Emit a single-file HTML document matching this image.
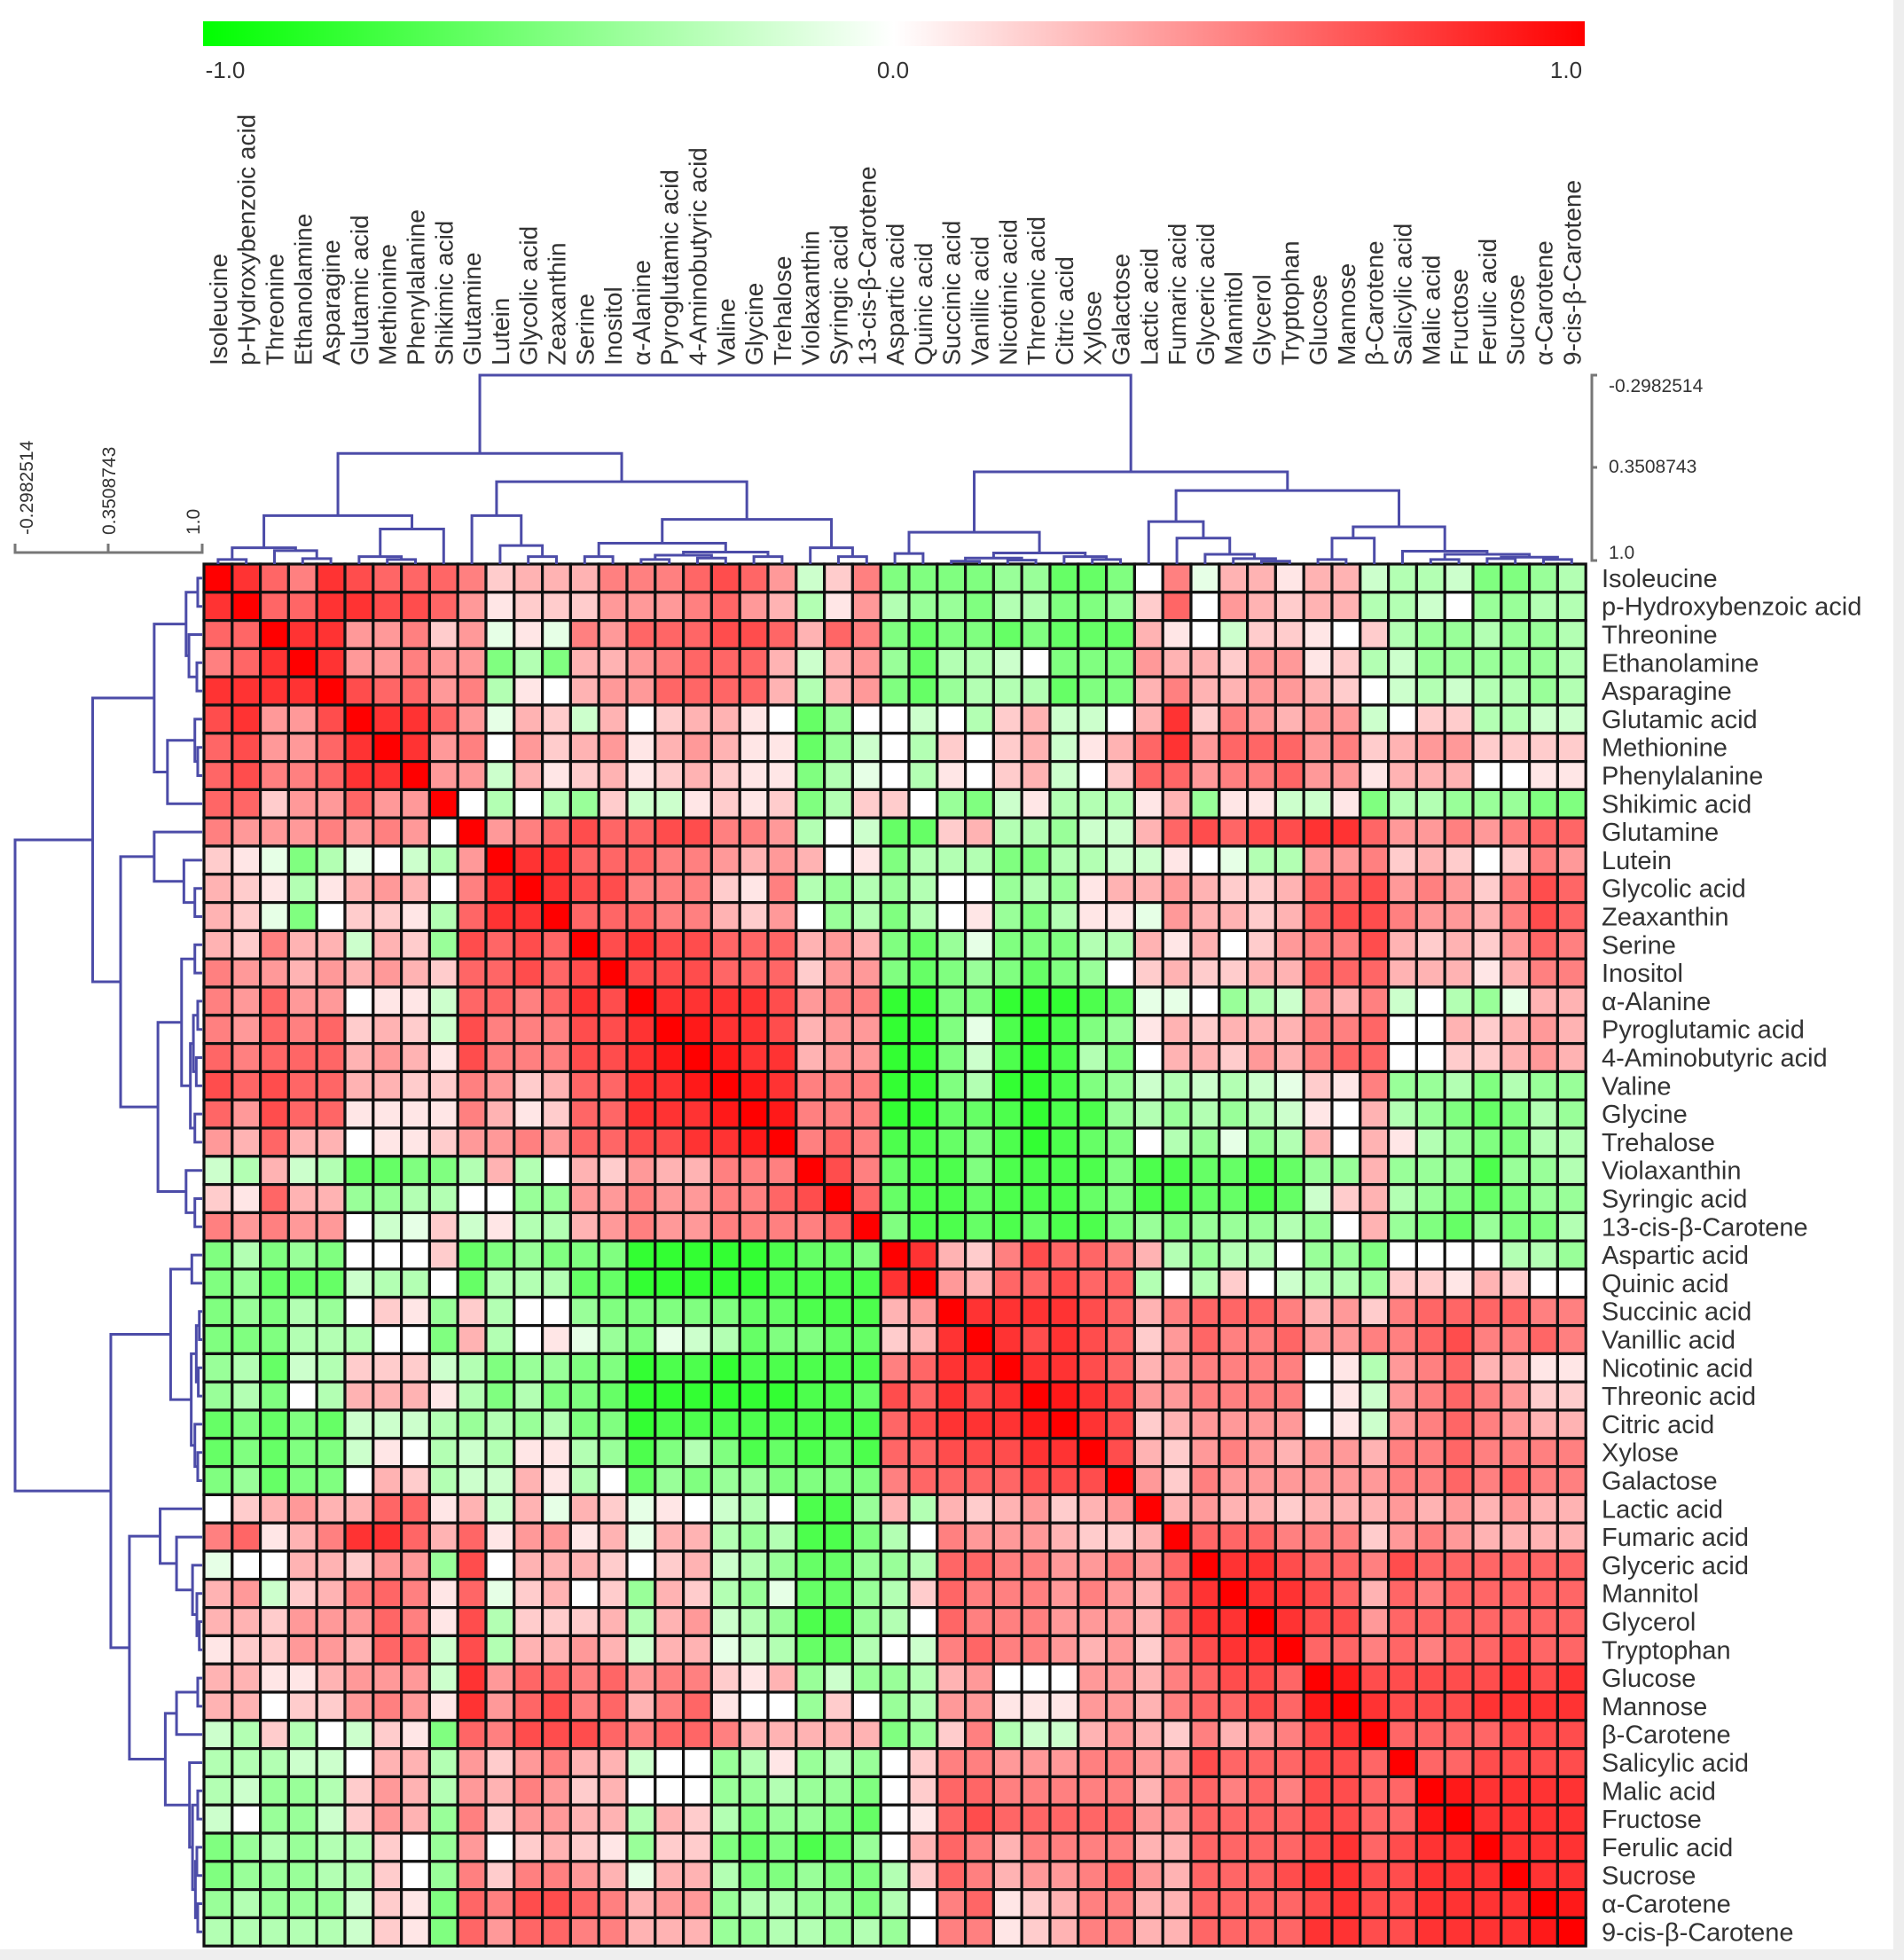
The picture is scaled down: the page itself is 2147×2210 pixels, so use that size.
<!DOCTYPE html>
<html><head><meta charset="utf-8"><style>
html,body{margin:0;padding:0;background:#fff;}
svg{display:block;font-family:"Liberation Sans",sans-serif;}
</style></head><body>
<svg id="chart" width="2147" height="2210" viewBox="0 0 2147 2210" xmlns="http://www.w3.org/2000/svg">
<defs><linearGradient id="cbg" x1="0" x2="1" y1="0" y2="0"><stop offset="0" stop-color="#00ff00"/><stop offset="0.5" stop-color="#ffffff"/><stop offset="1" stop-color="#ff0000"/></linearGradient></defs>
<rect x="0" y="0" width="2147" height="2210" fill="#fff"/>
<rect x="2135" y="0" width="12" height="2210" fill="#eeeeee"/>
<rect x="0" y="2198" width="2147" height="12" fill="#eeeeee"/>
<g id="colorbar">
<rect x="229" y="24" width="1558" height="28" fill="url(#cbg)"/>
<text x="254" y="88" font-size="26" fill="#333" text-anchor="middle">-1.0</text>
<text x="1007" y="88" font-size="26" fill="#333" text-anchor="middle">0.0</text>
<text x="1766" y="88" font-size="26" fill="#333" text-anchor="middle">1.0</text>
</g>
<g id="cells"></g>
<g id="collabels"></g>
<g id="rowlabels"></g>
<g id="dendTop"></g>
<g id="dendLeft"></g>
<g id="scaleTop">
<path d="M1801 423 H1795 V632 H1801 M1795 527 H1801" stroke="#777" stroke-width="3" fill="none"/>
<text x="1814" y="442" font-size="21" fill="#333">-0.2982514</text>
<text x="1814" y="533" font-size="21" fill="#333">0.3508743</text>
<text x="1814" y="630" font-size="21" fill="#333">1.0</text>
</g>
<g id="scaleLeft">
<path d="M17 613 V623 H228 V613 M122 613 V623" stroke="#777" stroke-width="3" fill="none"/>
<text transform="translate(37,603) rotate(-90)" font-size="21" fill="#333">-0.2982514</text>
<text transform="translate(130,603) rotate(-90)" font-size="21" fill="#333">0.3508743</text>
<text transform="translate(225,603) rotate(-90)" font-size="21" fill="#333">1.0</text>
</g>
</svg>
<script>
const labels = ["Isoleucine","p-Hydroxybenzoic acid","Threonine","Ethanolamine","Asparagine","Glutamic acid","Methionine","Phenylalanine","Shikimic acid","Glutamine","Lutein","Glycolic acid","Zeaxanthin","Serine","Inositol","α-Alanine","Pyroglutamic acid","4-Aminobutyric acid","Valine","Glycine","Trehalose","Violaxanthin","Syringic acid","13-cis-β-Carotene","Aspartic acid","Quinic acid","Succinic acid","Vanillic acid","Nicotinic acid","Threonic acid","Citric acid","Xylose","Galactose","Lactic acid","Fumaric acid","Glyceric acid","Mannitol","Glycerol","Tryptophan","Glucose","Mannose","β-Carotene","Salicylic acid","Malic acid","Fructose","Ferulic acid","Sucrose","α-Carotene","9-cis-β-Carotene"];
// value codes: digit d => d/10, letter a..i => -0.1..-0.9 ; diagonal = 1
const rowsTop = [
"9 8 6 5 8 7 6 6 6 5 2 3 3 3 5 5 5 6 7 6 4 b 2 5 e e e e d d f f e 0 5 a 3 3 1 3 3 b c c b e e d c",
"8 9 6 6 8 8 7 7 6 4 1 2 2 2 4 4 4 5 6 4 3 c 1 4 c d d e c c e e d 2 6 0 4 3 2 3 3 c c b 0 d d c c",
"6 6 9 8 8 4 4 5 2 4 a 1 a 5 4 6 6 6 7 7 6 3 6 5 e f e e f e f f f 3 1 0 b 2 2 1 0 2 c d d c d d c",
"6 6 8 9 8 4 4 5 4 4 e c e 3 3 4 5 6 6 6 3 b 3 4 d f c c b 0 e e e 4 3 3 2 4 4 1 2 c b d d d d d c",
"8 8 8 8 9 7 6 6 4 5 c 1 0 3 4 4 6 6 6 6 3 c 3 4 e f d c c c f e e 3 5 3 3 4 4 3 2 0 b c b c c d c",
"8 8 4 4 7 9 8 8 6 4 a 3 2 b 3 0 2 3 3 1 0 f d 0 0 b 0 c 2 3 b b 0 3 8 2 5 4 3 4 4 b 0 2 2 c c b b",
"7 8 4 5 7 9 9 8 4 5 0 4 2 3 4 1 3 4 3 1 1 f d b 0 c 2 0 2 3 b 1 3 6 8 4 6 6 6 4 5 2 3 4 4 2 2 2 2",
"6 7 5 5 7 8 8 9 4 4 b 3 1 2 3 1 2 3 2 1 1 e c a 0 c 1 0 2 3 b 0 2 6 6 4 5 5 6 4 4 1 3 3 3 0 0 1 1",
"6 7 2 4 5 6 5 4 9 0 c 0 c d 2 b b 1 2 1 2 e c 2 2 0 d e b 1 c c c 1 3 d 1 1 b b 1 e c c d d d e e",
"5 4 4 4 6 4 5 4 0 9 4 5 6 7 6 6 7 7 5 5 4 c 0 b f f 2 3 c c d b b 3 6 7 6 7 7 8 8 6 4 4 5 4 5 6 6",
"2 1 0 e c 0 0 b c 4 9 8 8 6 6 6 5 5 4 3 4 3 0 1 e c c c e e c c b b 1 0 a c c 4 4 5 2 3 2 0 2 5 4",
"2 2 1 c 1 3 5 4 0 5 8 9 8 7 7 5 5 5 2 1 5 c d c d c 0 0 d c d 1 3 3 4 3 2 2 3 6 6 7 4 5 4 2 5 7 6",
"2 2 b e 0 2 3 2 c 6 8 8 9 6 6 6 5 5 3 2 4 0 d c e c 0 1 d e c 1 1 a 4 3 3 2 3 6 7 7 5 4 4 3 5 7 6",
"3 2 5 4 5 b 3 3 d 7 6 7 6 9 7 8 7 7 6 6 6 3 4 3 e f d a e e e c c 3 1 3 0 2 4 5 5 7 3 2 3 2 4 6 5",
"5 5 4 4 5 3 4 3 2 6 6 6 6 7 9 7 7 7 6 6 6 2 4 4 e f e d e f e d 0 2 3 2 2 3 3 6 6 6 3 3 3 1 3 5 5",
"5 4 6 4 5 0 1 1 b 6 6 5 6 8 7 9 8 8 8 8 7 4 5 5 h h e e h h h g f a a 0 d c b 4 3 5 b 0 c d a 3 3",
"5 4 6 5 6 1 3 2 0 7 5 4 6 8 7 8 9 9 8 8 7 3 4 4 h h e a g h g e d 1 3 2 3 3 3 5 5 6 0 0 3 2 3 4 3",
"6 5 6 5 6 3 3 3 1 7 6 4 5 8 7 8 9 9 9 8 8 3 4 4 h h e b g h g c e 0 3 3 2 4 3 5 6 6 0 0 2 2 3 4 3",
"7 6 7 6 6 3 3 2 2 5 6 3 2 7 6 8 8 9 9 9 8 5 5 5 h h e c h h g e d b c b c b a 2 1 5 d d c e c d d",
"6 5 7 6 6 0 1 1 1 5 4 3 1 7 6 8 8 8 9 9 9 5 5 5 h h f f g h g g d c d c d c b 1 0 3 c d e f e c d",
"5 4 6 4 4 0 1 1 1 4 5 3 2 6 6 7 7 8 8 9 9 5 6 5 g g f e g h g f e 0 c d a d c 3 0 3 1 c d e e c c",
"a c 4 1 a f f e d 2 4 4 0 4 2 3 3 5 6 7 8 9 7 5 f g g e g g g g e g g f f g f d d 3 d d d g d d c",
"1 0 6 4 3 d d d d 1 0 c d 4 4 6 6 6 6 7 8 7 9 6 f g g f g g g f e g g f f g f b 2 3 c d e f e d d",
"5 4 6 4 4 0 c 1 2 b b c c 2 3 4 5 5 5 6 6 5 6 9 e g g f g f g g e d e d d d c d 0 3 d e f d e e c"
];
// rows 24..48, columns 24..48 (only upper triangle used)
const rowsBottom = [
"9 8 3 2 5 7 6 6 5 3 c d c c 0 d d e 0 0 0 0 c c d",
"8 9 4 3 6 6 7 6 6 c 0 c 2 0 b c c d 2 2 1 3 2 0 0",
"3 4 9 8 8 8 8 7 6 3 5 6 6 6 5 3 4 2 5 6 6 6 6 5 5",
"1 3 8 9 8 7 8 7 6 2 4 6 5 5 6 4 4 5 5 6 7 5 5 6 5",
"5 5 8 8 9 8 8 7 6 3 4 5 5 5 5 0 1 c 4 5 6 3 3 1 1",
"7 6 8 7 8 9 9 8 7 4 4 5 5 5 5 0 1 b 4 5 6 5 4 2 2",
"6 7 8 7 8 9 9 8 7 2 3 4 4 4 4 0 1 b 4 5 6 5 4 3 3",
"6 7 8 7 8 8 8 9 7 3 2 4 5 4 3 4 4 3 5 5 6 5 5 5 5",
"6 6 6 5 6 7 6 8 9 4 2 5 4 4 4 4 4 4 5 5 6 5 6 5 5",
"3 0 3 2 3 5 1 3 4 9 3 4 3 3 2 3 3 3 4 3 4 3 4 3 3",
"c 0 5 4 5 4 4 2 2 3 9 6 6 6 5 5 5 2 4 5 4 3 3 3 3",
"d c 6 7 5 4 4 5 5 3 6 9 8 8 7 6 6 5 7 6 6 6 6 6 6",
"c 2 6 6 4 5 5 5 5 3 7 8 9 8 8 7 6 3 6 5 6 6 6 6 6",
"c 0 7 6 6 6 5 5 5 3 7 8 8 9 8 7 7 4 6 6 6 6 6 6 6",
"a c 6 6 5 4 4 3 4 2 5 7 8 8 9 6 6 5 6 5 6 6 7 6 6",
"e c 4 4 0 0 1 5 5 3 6 6 6 7 6 9 9 7 7 7 7 7 8 7 8",
"e c 4 4 0 1 1 4 4 3 6 6 7 6 6 9 9 8 7 7 7 8 8 8 8",
"e d 3 5 c c b 4 4 2 6 4 5 5 6 7 8 9 6 6 6 6 7 7 7",
"0 2 5 5 5 6 5 5 5 4 5 6 6 6 5 7 7 6 9 6 6 7 7 7 7",
"0 2 6 6 5 5 5 6 6 4 5 6 6 5 6 7 7 6 6 9 9 8 8 8 8",
"0 0 0 0 0 0 0 0 0 0 0 0 0 0 0 0 0 0 0 0 9 8 8 8 8",
"0 0 0 0 0 0 0 0 0 0 0 0 0 0 0 0 0 0 0 0 0 9 8 8 8",
"0 0 0 0 0 0 0 0 0 0 0 0 0 0 0 0 0 0 0 0 0 0 9 8 8",
"0 0 0 0 0 0 0 0 0 0 0 0 0 0 0 0 0 0 0 0 0 0 0 9 9",
"0 0 0 0 0 0 0 0 0 0 0 0 0 0 0 0 0 0 0 0 0 0 0 0 9"
];
// dendrogram: [left, right, mergeHeight]; leaves are indices
const tree = [
 [[[[0,1,0.969],[2,[3,4,0.963],0.908],0.888],[[5,[6,7,0.969],0.949],8,0.759],0.667],
  [[9,[10,[11,12,0.949],0.873],0.667],
   [[[13,14,0.949],[[[15,16,0.969],[17,18,0.959],0.939],[19,20,0.949],0.918],0.857],[21,[22,23,0.949],0.888],0.693],0.434],0.240],
 [[[24,25,0.928],[[[26,27,0.980],[28,29,0.973],0.959],[30,[31,32,0.969],0.949],0.924],0.781],
  [[33,[34,[35,[36,[37,38,0.980],0.963],0.933],0.822],0.708],
   [[[39,40,0.969],41,0.822],[42,[[43,44,0.969],[[45,46,0.963],[47,48,0.969],0.953],0.933],0.912],0.744],0.495],0.366],
 -0.2982514];
const scaleTicks = [-0.2982514, 0.3508743, 1.0];

const NS = "http://www.w3.org/2000/svg";
const N = labels.length;
const X0 = 230, Y0 = 636, CELL = 31.8;
const colX = j => X0 + CELL * j;
const rowY = i => Y0 + CELL * i;
const hMin = scaleTicks[0], hMax = scaleTicks[2];
const topY = h => 423 + (h - hMin) / (hMax - hMin) * (Y0 - 423);
const leftX = h => 17 + (h - hMin) / (hMax - hMin) * (X0 - 2 - 17);

function parseCode(t){ if (/[0-9]/.test(t)) return parseInt(t,10)/10; return -(t.charCodeAt(0)-96)/10; }
const matTop = rowsTop.map(r => r.trim().split(/\s+/).map(parseCode));
const matBottom = rowsBottom.map(r => r.trim().split(/\s+/).map(parseCode));
function val(i,j){
  if (i===j) return 1;
  if (i>j){ const t=i; i=j; j=t; }
  if (i<24) return matTop[i][j];
  return matBottom[i-24][j-24];
}
function color(v){
  v = Math.max(-1, Math.min(1, v));
  if (v>=0){ const c=Math.round(255*(1-v)); return `rgb(255,${c},${c})`; }
  const c=Math.round(255*(1+v)); return `rgb(${c},255,${c})`;
}
const cellsG = document.getElementById('cells');
for (let i=0;i<N;i++) for (let j=0;j<N;j++){
  const r = document.createElementNS(NS,'rect');
  r.setAttribute('x', colX(j)); r.setAttribute('y', rowY(i));
  r.setAttribute('width', CELL); r.setAttribute('height', CELL);
  r.setAttribute('fill', color(val(i,j)));
  r.setAttribute('stroke', '#111'); r.setAttribute('stroke-width', '3.2');
  
  
  cellsG.appendChild(r);
}
const cl = document.getElementById('collabels');
const rl = document.getElementById('rowlabels');
labels.forEach((lab, k) => {
  const t = document.createElementNS(NS,'text');
  const cx = colX(k) + CELL/2 + 10;
  t.setAttribute('transform', `translate(${cx},412) rotate(-90)`);
  t.setAttribute('font-size', '28'); t.setAttribute('fill', '#333');
  t.textContent = lab;
  
  
  cl.appendChild(t);
  const u = document.createElementNS(NS,'text');
  u.setAttribute('x', 1806); u.setAttribute('y', rowY(k) + CELL/2 + 10);
  u.setAttribute('font-size', '29'); u.setAttribute('fill', '#333');
  u.textContent = lab;
  
  
  rl.appendChild(u);
});
function layout(node, segs){
  if (typeof node === 'number') return {p: node + 0.5, h: 1.0};
  const a = layout(node[0], segs), b = layout(node[1], segs), h = node[2];
  segs.push([a, b, h]);
  return {p: (a.p + b.p)/2, h: h};
}
const segList = []; layout(tree, segList);
const dt = document.getElementById('dendTop'), dl = document.getElementById('dendLeft');
segList.forEach(([a,b,h]) => {
  const xa = X0 + CELL*a.p, xb = X0 + CELL*b.p;
  const p1 = document.createElementNS(NS,'path');
  p1.setAttribute('d', `M${xa} ${topY(a.h)} V${topY(h)} H${xb} V${topY(b.h)}`);
  p1.setAttribute('stroke', '#4c4ca8'); p1.setAttribute('stroke-width', '3'); p1.setAttribute('fill', 'none');
  
  
  dt.appendChild(p1);
  const ya = Y0 + CELL*a.p, yb = Y0 + CELL*b.p;
  const p2 = document.createElementNS(NS,'path');
  p2.setAttribute('d', `M${leftX(a.h)} ${ya} H${leftX(h)} V${yb} H${leftX(b.h)}`);
  p2.setAttribute('stroke', '#4c4ca8'); p2.setAttribute('stroke-width', '3'); p2.setAttribute('fill', 'none');
  
  
  dl.appendChild(p2);
});
</script>
</body></html>
